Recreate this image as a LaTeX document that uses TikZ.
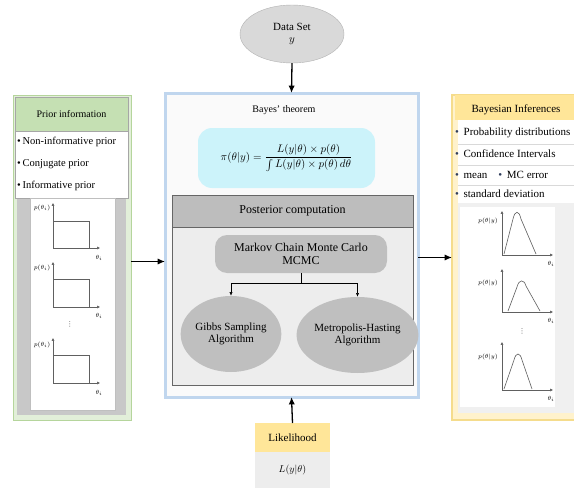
\documentclass[tikz,border=0pt]{standalone}
\usepackage{amsmath}
\usepackage{fontspec}
\setmainfont{Liberation Serif}
\newfontfamily\symfont{DejaVu Sans}
\usetikzlibrary{arrows.meta,positioning,shapes.geometric,calc}

\definecolor{greenfill}{HTML}{E2EFD9}
\definecolor{greenline}{HTML}{B5D59C}
\definecolor{greenhead}{HTML}{C5E0B3}
\definecolor{shadegray}{HTML}{C8C8C8}
\definecolor{blueline}{HTML}{C0D6EE}
\definecolor{cyanfill}{HTML}{CCF3FA}
\definecolor{headgray}{HTML}{BDBDBD}
\definecolor{bodygray}{HTML}{EDEDED}
\definecolor{blobgray}{HTML}{BFBFBF}
\definecolor{setgray}{HTML}{D9D9D9}
\definecolor{yellowhead}{HTML}{FFE699}
\definecolor{yellowfill}{HTML}{FFF2CC}
\definecolor{yellowline}{HTML}{F5DC8C}
\definecolor{axisgray}{HTML}{606060}
\definecolor{dotblue}{HTML}{2F3D5C}

\begin{document}
\begin{tikzpicture}[
  x=1pt, y=-1pt,
  font=\fontsize{10}{11}\selectfont,
  frame/.style={inner sep=0pt, outer sep=0pt},
  hdr/.style={frame, draw=gray!70, align=center},
  blob/.style={ellipse, fill=blobgray, inner sep=0pt, align=center, font=\fontsize{11}{12.5}\selectfont},
  item/.style={anchor=west, inner sep=0pt},
  lbl/.style={inner sep=0pt, font=\fontsize{6}{7}\selectfont},
  vdot/.style={inner sep=0pt, text=axisgray, font=\symfont\fontsize{7}{7}\selectfont},
  arr/.style={-{Latex[length=2.6mm,width=2.2mm]}, line width=1.3pt},
  sarr/.style={-{Latex[length=1.3mm,width=1.1mm]}, line width=0.5pt},
  ax/.style={-{Latex[length=1mm,width=1mm]}, line width=0.5pt, draw=axisgray}
]
\useasboundingbox (0,0) rectangle (574,490);
\clip (0,0) rectangle (574,490);
\fill[white] (0,0) rectangle (574,490);

% prior side
\node[frame, draw=greenline, fill=greenfill, minimum width=118pt, minimum height=325pt] (prior) at (72,257.5) {};
\node[frame, fill=shadegray, minimum width=109pt, minimum height=315pt] (priorshade) at (71.5,257.5) {};
\node[hdr, fill=greenhead, minimum width=113pt, minimum height=34pt] (priorhead) at (71.5,114) {Prior information};
\node[hdr, fill=white, minimum width=113pt, minimum height=67pt] (priorlist) at (71.5,164.5) {};
\node[hdr, fill=white, draw=gray!50, minimum width=85pt, minimum height=212pt] (priorplots) at (72.5,304) {};
\node[item, font=\fontsize{10.5}{12}\selectfont] (p1) at (17,142) {\textbullet\,Non-informative prior};
\node[item, font=\fontsize{10.5}{12}\selectfont] (p2) at (17,164) {\textbullet\,Conjugate prior};
\node[item, font=\fontsize{10.5}{12}\selectfont] (p3) at (17,186) {\textbullet\,Informative prior};

% prior plots
\draw[ax] (53,248) -- (53,203);
\draw[ax] (53,248) -- (100,248);
\draw[axisgray, line width=0.5pt] (53,221) -| (89,248);
\node[lbl] (pA) at (42,208) {$p(\theta_i)$};
\node[lbl] (tA) at (99,258) {$\theta_i$};
\draw[ax] (53,307) -- (53,262);
\draw[ax] (53,307) -- (100,307);
\draw[axisgray, line width=0.5pt] (53,279) -| (89,307);
\node[lbl] (pB) at (42,268) {$p(\theta_i)$};
\node[lbl] (tB) at (99,316) {$\theta_i$};
\node[vdot] (dotsL) at (70,324) {⋮};
\draw[ax] (53,383) -- (53,338);
\draw[ax] (53,383) -- (100,383);
\draw[axisgray, line width=0.5pt] (53,355) -| (89,383);
\node[lbl] (pC) at (42,345) {$p(\theta_i)$};
\node[lbl] (tC) at (99,393) {$\theta_i$};

% middle
\node[frame, draw=blueline, line width=3pt, fill=gray!4, minimum width=253pt, minimum height=304pt] (bayes) at (291.5,245) {};
\node[inner sep=0pt] (thm) at (284,110) {Bayes' theorem};
\node[frame, fill=cyanfill, rounded corners=14pt, minimum width=177pt, minimum height=60pt, font=\fontsize{11}{12}\selectfont] (formula) at (286.5,158)
  {$\pi(\theta|y)=\dfrac{L(y|\theta)\times p(\theta)}{\int L(y|\theta)\times p(\theta)\,d\theta}$};
\node[hdr, draw=gray!80!black, fill=headgray, minimum width=241pt, minimum height=32pt, font=\fontsize{12}{13}\selectfont] (posthead) at (292.5,211) {Posterior computation};
\node[hdr, draw=gray!80!black, fill=bodygray, minimum width=241pt, minimum height=158pt] (postbody) at (292.5,306) {};
\node[frame, fill=blobgray, rounded corners=12pt, minimum width=172pt, minimum height=38pt, align=center, font=\fontsize{12}{13}\selectfont] (mcmc) at (301,254) {Markov Chain Monte Carlo\\MCMC};
\node[blob, minimum width=98pt, minimum height=76pt] (gibbs) at (231,334) {Gibbs Sampling\\Algorithm};
\node[blob, minimum width=110pt, minimum height=76pt] (metro) at (357.5,335) {Metropolis-Hasting\\Algorithm};
\coordinate (split) at (301,283);
\draw[line width=0.5pt] (mcmc.south) -- (split);
\draw[line width=0.5pt] (gibbs.north |- split) -- (metro.north |- split);
\draw[sarr] (gibbs.north |- split) -- (gibbs.north);
\draw[sarr] (metro.north |- split) -- (metro.north);

% data and likelihood
\node[ellipse, draw=gray!60, fill=setgray, minimum width=104pt, minimum height=58pt, inner sep=0pt, align=center, font=\fontsize{11}{12.5}\selectfont] (dataset) at (292,34) {Data Set\\$y$};
\node[hdr, draw=none, fill=yellowhead, minimum width=75pt, minimum height=29pt, font=\fontsize{11}{12}\selectfont] (lhead) at (292.5,437.5) {Likelihood};
\node[hdr, draw=none, fill=bodygray, minimum width=75pt, minimum height=36pt] (lbody) at (292.5,470) {$L(y|\theta)$};

% inference side
\node[frame, draw=yellowline, line width=1.5pt, fill=yellowfill, minimum width=133pt, minimum height=325pt] (infer) at (518.5,257.5) {};
\node[frame, fill=gray!12, minimum width=127pt, minimum height=293pt] (infershade) at (521.5,266.5) {};
\node[frame, fill=yellowhead, minimum width=130pt, minimum height=25pt, font=\fontsize{11}{12}\selectfont] (inferhead) at (520,107.5) {};
\node[inner sep=0pt, font=\fontsize{11}{12}\selectfont] (infertitle) at (516,110) {Bayesian Inferences};
\node[frame, fill=white, minimum width=127pt, minimum height=83pt] (inferlist) at (521.5,161.5) {};
\draw[gray!30] (458,144) -- (585,144) (458,165) -- (585,165) (458,185) -- (585,185);
\node[item, font=\fontsize{11}{12}\selectfont] (i1) at (455,133) {\textcolor{dotblue}{\textbullet}\, Probability distributions};
\node[item, font=\fontsize{11}{12}\selectfont] (i2) at (455,154) {\textcolor{dotblue}{\textbullet}\, Confidence Intervals};
\node[item, font=\fontsize{11}{12}\selectfont] (i3) at (455,175) {\textcolor{dotblue}{\textbullet}\, mean\quad\textcolor{dotblue}{\textbullet}\, MC error};
\node[item, font=\fontsize{11}{12}\selectfont] (i4) at (455,194) {\textcolor{dotblue}{\textbullet}\, standard deviation};
\node[frame, fill=white, minimum width=95pt, minimum height=200pt] (inferplots) at (507.5,307) {};

% posterior plots
\draw[ax] (502,255) -- (502,211);
\draw[ax] (502,255) -- (553,255);
\draw[axisgray, line width=0.6pt] (504,254) -- (513,219) .. controls (515,210) and (519,210) .. (521,219) -- (536,254);
\node[lbl] (qA) at (488,221) {$p(\theta|y)$};
\node[lbl] (sA) at (551,264) {$\theta_i$};
\draw[ax] (502,312) -- (502,269);
\draw[ax] (502,312) -- (553,312);
\draw[axisgray, line width=0.6pt] (508,311) -- (517,287) .. controls (519,279) and (524,279) .. (526,286) -- (540,311);
\node[lbl] (qB) at (488,283) {$p(\theta|y)$};
\node[lbl] (sB) at (551,321) {$\theta_i$};
\node[vdot] (dotsR) at (522,331) {⋮};
\draw[ax] (502,390) -- (502,342);
\draw[ax] (502,390) -- (553,390);
\draw[axisgray, line width=0.6pt] (504,389) -- (514,360) .. controls (516,352) and (520,352) .. (522,360) -- (532,389);
\node[lbl] (qC) at (488,357) {$p(\theta|y)$};
\node[lbl] (sC) at (551,399) {$\theta_i$};

% connectors
\draw[arr] (dataset.south) -- (bayes.north);
\draw[arr] (lhead.north) -- (bayes.south);
\draw[arr] ([yshift=-4pt]prior.east) -- ([yshift=-4pt]bayes.west |- prior.east);
\draw[arr] (bayes.east |- infer.west) -- (infer.west);
\end{tikzpicture}
\end{document}
